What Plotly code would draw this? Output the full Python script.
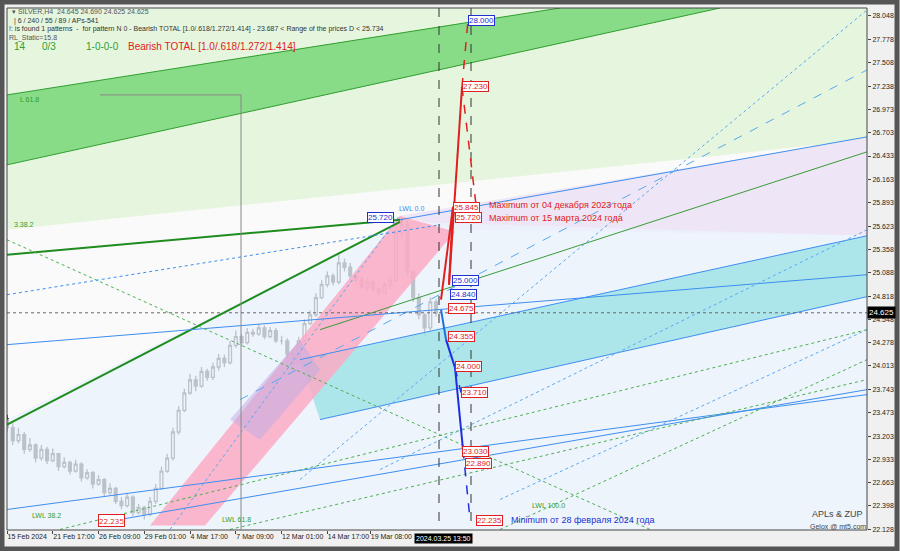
import plotly.graph_objects as go

# ---------------- data ----------------
bar_idx = list(range(0, 152, 2))
closes = [23.30,23.15,23.22,23.05,23.10,22.95,23.05,22.92,23.00,22.85,22.90,22.80,22.88,22.72,22.78,22.65,22.70,22.55,22.60,22.45,
          22.40,22.50,22.32,22.38,22.30,22.45,22.60,22.80,22.95,23.25,23.50,23.70,23.85,23.78,23.95,23.88,24.00,24.10,24.05,24.25,
          24.35,24.28,24.40,24.38,24.45,24.35,24.42,24.30,24.30,24.15,24.05,24.30,24.50,24.60,24.80,24.95,25.05,24.98,25.20,25.15,
          25.05,25.00,24.92,24.98,24.90,24.85,24.95,25.00,25.55,25.65,25.10,24.80,24.60,24.45,24.75,24.62]
highs = [23.45,23.35,23.30,23.25,23.18,23.12,23.10,23.08,23.06,22.98,22.96,22.92,22.93,22.90,22.82,22.80,22.75,22.72,22.66,22.62,
         22.50,22.55,22.52,22.42,22.40,22.50,22.65,22.85,23.00,23.30,23.55,23.75,23.92,23.90,24.00,23.98,24.05,24.15,24.14,24.30,
         24.42,24.38,24.45,24.44,24.50,24.48,24.46,24.45,24.36,24.33,24.18,24.35,24.55,24.65,24.85,25.00,25.10,25.08,25.30,25.25,
         25.20,25.08,25.05,25.02,25.00,24.92,24.98,25.05,25.62,25.72,25.68,25.12,24.85,24.62,24.80,24.78]
lows = [23.25,23.10,23.12,23.00,23.02,22.90,22.92,22.88,22.90,22.80,22.83,22.76,22.78,22.68,22.70,22.60,22.63,22.50,22.52,22.42,
        22.36,22.38,22.28,22.30,22.24,22.28,22.42,22.58,22.78,22.92,23.22,23.48,23.68,23.72,23.76,23.84,23.85,23.96,24.00,24.03,
        24.22,24.24,24.26,24.35,24.36,24.32,24.33,24.28,24.26,24.10,24.00,24.02,24.28,24.48,24.58,24.78,24.92,24.94,24.95,25.10,
        25.00,24.96,24.90,24.88,24.86,24.82,24.84,24.90,24.98,25.50,25.05,24.75,24.55,24.35,24.42,24.58]
opens = [23.40] + closes[:-1]

x_ticks = [0, 16, 32, 48, 64, 80, 96, 112, 127]
x_tick_labels = ["15 Feb 2024", "21 Feb 17:00", "26 Feb 09:00", "29 Feb 01:00", "4 Mar 17:00",
                 "7 Mar 09:00", "12 Mar 01:00", "14 Mar 17:00", "19 Mar 08:00"]
y_ticks = [28.048,27.778,27.508,27.238,26.973,26.703,26.433,26.163,25.893,25.623,25.358,25.088,
           24.818,24.548,24.278,24.013,23.743,23.473,23.203,22.933,22.663,22.398,22.128]
current_price = 24.625

levels_red = [(27.230, 462), (25.845, 453), (25.720, 455), (24.675, 448), (24.355, 448),
              (24.000, 455), (23.710, 461), (23.030, 462), (22.890, 465), (22.235, 476)]
levels_blue = [(28.000, 468), (25.000, 452), (24.840, 450), (25.720, 367)]

# ---------------- helpers ----------------
PX0, PXS = 7, 2.86
def bx(px): return (px - PX0) / PXS
def py(pyx): return 28.14 - (pyx - 8) / 86.8

XMAX = bx(867)
fig = go.Figure()

def poly(pts, fill, line="rgba(0,0,0,0)", w=0):
    xs = [bx(p[0]) for p in pts] + [bx(pts[0][0])]
    ys = [py(p[1]) for p in pts] + [py(pts[0][1])]
    fig.add_trace(go.Scatter(x=xs, y=ys, fill="toself", fillcolor=fill, mode="lines",
                             line=dict(color=line, width=w), hoverinfo="skip", showlegend=False))

def seg(p1, p2, color, w=1, dash="solid"):
    fig.add_trace(go.Scatter(x=[bx(p1[0]), bx(p2[0])], y=[py(p1[1]), py(p2[1])], mode="lines",
                             line=dict(color=color, width=w, dash=dash), hoverinfo="skip", showlegend=False))

poly([(7, 8), (867, 8), (867, 140), (7, 230)], "rgba(225,245,215,0.8)")
poly([(7, 95), (560, 8), (720, 8), (7, 165)], "rgba(120,215,120,0.85)")
poly([(400, 216), (867, 138), (867, 236), (455, 230)], "rgba(235,225,245,0.8)")
poly([(7, 420), (400, 222), (867, 236), (867, 530), (7, 530)], "rgba(235,243,252,0.8)")
poly([(300, 360), (867, 236), (867, 297), (320, 420)], "rgba(150,225,230,0.75)")
poly([(150, 526), (205, 526), (455, 232), (400, 216)], "rgba(250,170,195,0.85)")
poly([(230, 420), (300, 340), (320, 370), (260, 440)], "rgba(190,170,230,0.5)")

seg((7, 95), (560, 8), "#2f9e2f", 1)
seg((7, 165), (720, 8), "#2f9e2f", 1)
seg((7, 255), (400, 220), "#1e8c1e", 2)
seg((7, 425), (400, 222), "#1e8c1e", 2)
seg((320, 330), (867, 152), "#3a9a3a", 1)
seg((400, 220), (867, 137), "#3d8ef0", 1)
seg((300, 360), (867, 236), "#3d8ef0", 1)
seg((320, 420), (867, 297), "#3d8ef0", 1)
seg((7, 345), (867, 275), "#3d8ef0", 1)
seg((120, 520), (867, 390), "#3d8ef0", 1)
seg((7, 510), (867, 395), "#3d8ef0", 1)
seg((240, 400), (867, 70), "#5aa8f0", 1, "dash")
seg((7, 240), (650, 530), "#4caf50", 1, "dot")
seg((60, 530), (867, 330), "#4caf50", 1, "dot")
seg((230, 530), (867, 380), "#4caf50", 1, "dot")
seg((500, 530), (867, 360), "#4caf50", 1, "dot")
seg((300, 480), (867, 10), "#5aa8f0", 1, "dot")
seg((380, 470), (867, 230), "#5aa8f0", 1, "dot")
seg((500, 500), (867, 330), "#5aa8f0", 1, "dot")
seg((170, 530), (400, 215), "#5aa8f0", 1, "dot")
seg((7, 295), (440, 225), "#3d8ef0", 1, "dot")
seg((241, 95), (241, 530), "#888888", 1)
seg((100, 95), (241, 95), "#888888", 1)
seg((439, 8), (439, 530), "#333333", 1, "dash")
seg((471, 8), (471, 530), "#333333", 1, "dash")
fig.add_trace(go.Scatter(x=[0, XMAX], y=[current_price]*2, mode="lines",
                         line=dict(color="#666", width=1, dash="dot"), hoverinfo="skip", showlegend=False))

fig.add_trace(go.Candlestick(x=bar_idx, open=opens, high=highs, low=lows, close=closes,
                             increasing=dict(line=dict(color="#000", width=1.3), fillcolor="#ffffff"),
                             decreasing=dict(line=dict(color="#000", width=1.3), fillcolor="#000000"),
                             whiskerwidth=0, showlegend=False, hoverinfo="skip"))

seg((441, 300), (453, 207), "#e02020", 2)
seg((453, 207), (449, 285), "#e02020", 2)
seg((449, 285), (462, 87), "#e02020", 2)
seg((462, 87), (468, 20), "#e02020", 1.5, "dash")
seg((462, 87), (476, 205), "#e02020", 1.5, "dash")
seg((441, 310), (446, 340), "#1f6fe0", 2)
seg((446, 340), (455, 368), "#1f2fe0", 2)
seg((455, 368), (463, 450), "#1f2fe0", 2)
seg((455, 368), (461, 393), "#1f2fe0", 1.5, "dash")
seg((463, 450), (470, 520), "#1f2fe0", 1.5, "dash")

ann = []
for price, px in levels_red:
    ann.append(dict(x=bx(px), y=price, text=f"{price:.3f}", showarrow=False, xanchor="left",
                    font=dict(size=8, color="#e02020", family="Liberation Sans"),
                    bgcolor="#ffffff", bordercolor="#e02020", borderwidth=1, borderpad=0))
for price, px in levels_blue:
    ann.append(dict(x=bx(px), y=price, text=f"{price:.3f}", showarrow=False, xanchor="left",
                    font=dict(size=8, color="#2030d0", family="Liberation Sans"),
                    bgcolor="#ffffff", bordercolor="#2030d0", borderwidth=1, borderpad=0))
ann.append(dict(x=bx(98), y=22.235, text="22.235", showarrow=False, xanchor="left",
                font=dict(size=8, color="#e02020"), bgcolor="#fff", bordercolor="#e02020", borderwidth=1, borderpad=0))

def txt(px, pyy, s, color, size=8, **kw):
    ann.append(dict(xref="paper", yref="paper", x=(px-7)/860, y=1-(pyy-8)/522, text=s, showarrow=False,
                    xanchor="left", yanchor="middle", font=dict(size=size, color=color, family="Liberation Sans"), **kw))

txt(10, 12, "▾ SILVER,H4  24.645 24.690 24.625 24.625", "#555", 7)
txt(10, 21, " | 6 / 240 / 55 / 89 / APs-541", "#333", 7)
txt(7, 29, "!: is found 1 patterns  -  for pattern N 0 - Bearish TOTAL [1.0/.618/1.272/1.414] - 23.687 < Range of the prices D < 25.734", "#333", 7)
txt(7, 38, "RL_Static=15.8", "#555", 7)
txt(12, 47, "14", "#2f9e2f", 10)
txt(40, 47, "0/3", "#2f9e2f", 10)
txt(84, 47, "1-0-0-0", "#2f9e2f", 10)
txt(126, 47, "Bearish TOTAL [1.0/.618/1.272/1.414]", "#e02020", 10)
txt(487, 205, "Maximum от 04 декабря 2023 года", "#e02020", 9)
txt(487, 218, "Maximum от 15 марта 2024 года", "#e02020", 9)
txt(509, 520, "Minimum от 28 февраля 2024 года", "#2030d0", 9)
txt(810, 514, "APLs & ZUP", "#444", 9)
txt(808, 526, "Gelox @ mt5.com", "#444", 7)
txt(18, 100, "L 61.8", "#2f9e2f", 7)
txt(12, 225, "3.38.2", "#2f9e2f", 7)
txt(397, 209, "LWL 0.0", "#3d8ef0", 7)
txt(30, 515, "LWL 38.2", "#2f9e2f", 7)
txt(220, 519, "LWL 61.8", "#2f9e2f", 7)
txt(530, 505, "LWL 100.0", "#2f9e2f", 7)
ann.append(dict(xref="paper", yref="paper", x=(443-7)/860, y=-0.006, text="2024.03.25 13:50", showarrow=False,
                yanchor="top", xanchor="center", bgcolor="#000", borderpad=1,
                font=dict(size=7, color="#fff", family="Liberation Sans")))
ann.append(dict(xref="paper", y=current_price, x=1.0, text="24.625", showarrow=False, xanchor="left",
                bgcolor="#000", font=dict(size=8, color="#fff", family="Liberation Sans")))

shapes = [
    dict(type="rect", xref="paper", yref="paper", x0=0, x1=1, y0=0, y1=1, line=dict(color="#444", width=1)),
    dict(type="rect", xref="paper", yref="paper", x0=-5/860, x1=1+30/860, y0=-19/522, y1=1+6/522,
         line=dict(color="#555", width=5)),
]

fig.update_layout(
    width=900, height=551, margin=dict(l=7, r=33, t=8, b=21),
    paper_bgcolor="#f0f0f0", plot_bgcolor="#fafafa",
    annotations=ann, shapes=shapes, showlegend=False,
    xaxis=dict(range=[-0.01, XMAX], tickvals=x_ticks, ticktext=x_tick_labels, showgrid=False, zeroline=False,
               rangeslider=dict(visible=False), ticks="outside", ticklen=3, tickangle=0, automargin=False,
               tickfont=dict(size=7, color="#222", family="Liberation Sans"), ticklabelposition="outside right"),
    yaxis=dict(range=[22.12, 28.14], side="right", tickvals=y_ticks, ticktext=[f"{v:.3f}" for v in y_ticks],
               showgrid=False, zeroline=False, ticks="outside", ticklen=3, automargin=False,
               tickfont=dict(size=7, color="#222", family="Liberation Sans")),
)
fig.write_html("out.html", config={"displayModeBar": False})
with open("out.html", encoding="utf-8") as f:
    html = f.read()
html = html.replace("<head>", "<head><style>html,body{margin:0;padding:0;overflow:hidden;}</style>", 1)
with open("out.html", "w", encoding="utf-8") as f:
    f.write(html)
